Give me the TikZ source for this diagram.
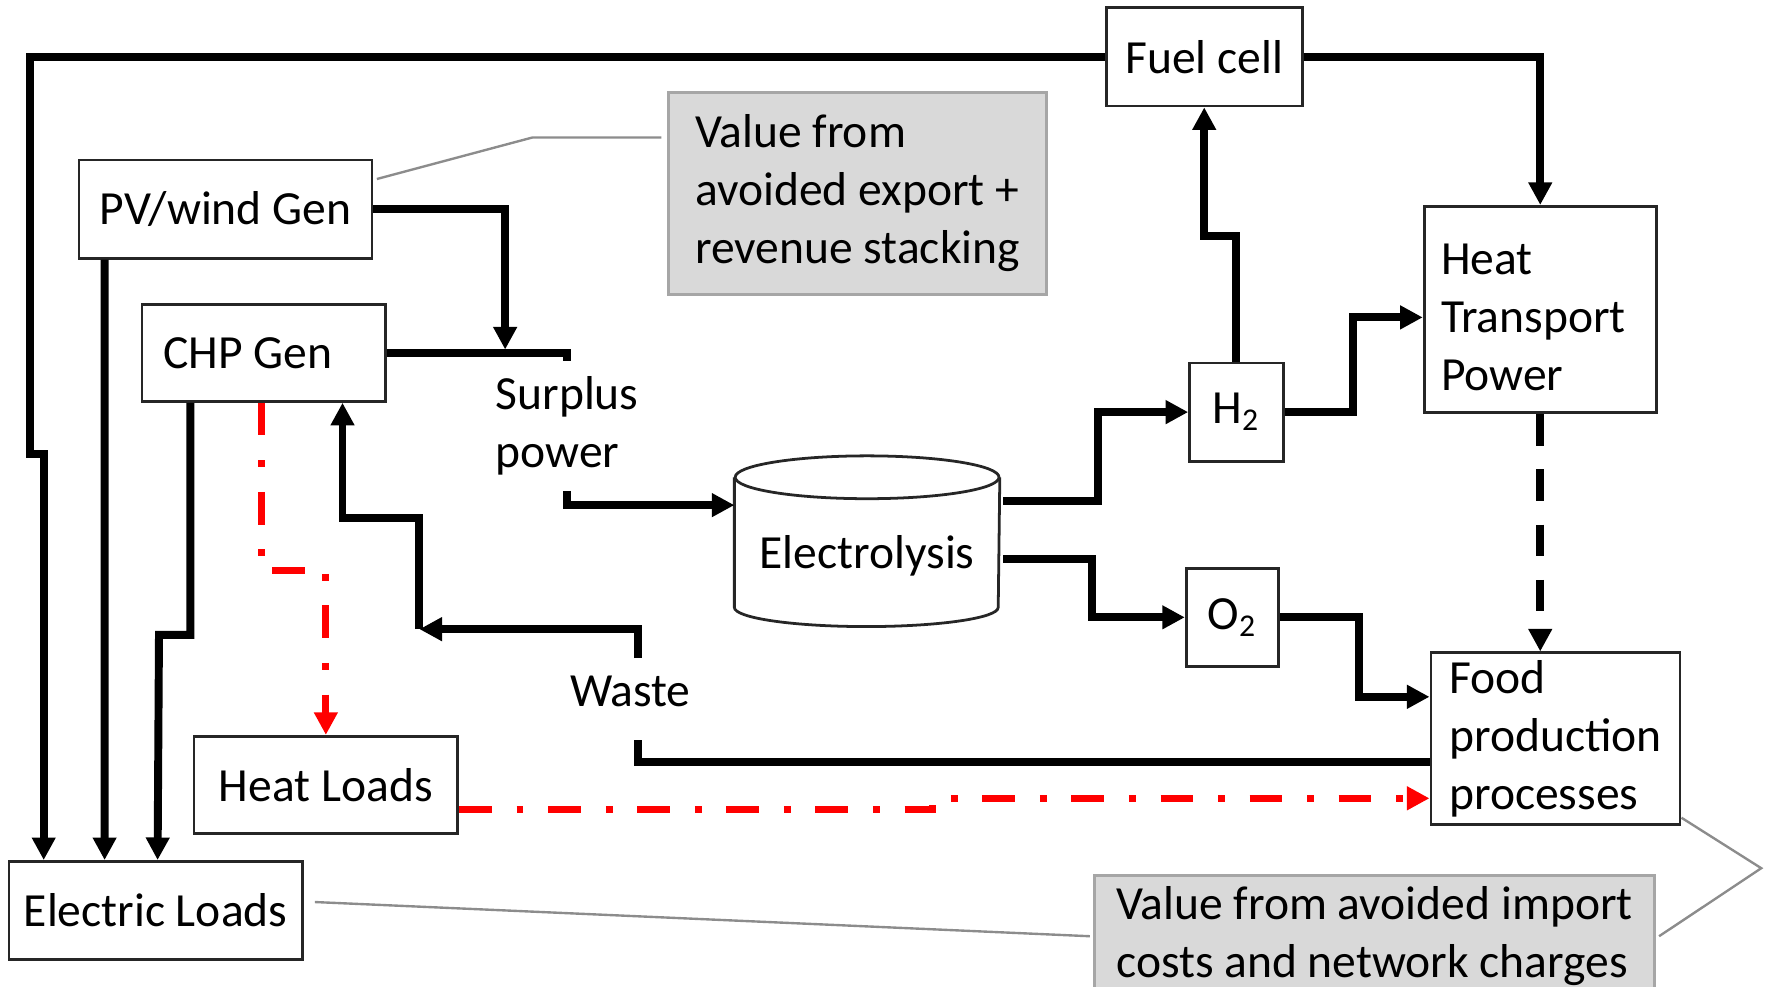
\documentclass[tikz,border=0pt]{standalone}
\usepackage{fontspec}
\setmainfont{Carlito}
\usetikzlibrary{arrows.meta}
\definecolor{notefill}{HTML}{D9D9D9}
\definecolor{noteline}{HTML}{A6A6A6}
\definecolor{leadgray}{HTML}{8C8C8C}
\definecolor{heatred}{HTML}{FF0000}

\begin{document}
\begin{tikzpicture}[font=\fontsize{12}{14.6}\selectfont,
  unit/.style={draw=black!85,line width=0.7pt,fill=white,inner sep=0pt},
  note/.style={draw=noteline,line width=0.8pt,fill=notefill,align=left,inner sep=0pt},
  pipe/.style={line width=2pt},
  flow/.style={line width=2pt,-{Triangle[length=2mm,width=2mm]}},
  heatflow/.style={heatred,line width=1.8pt,dash pattern=on 2.9mm off 2.2mm on 0.6mm off 2.2mm,-{Triangle[length=2mm,width=2mm]}},
  leader/.style={leadgray,line width=0.6pt}]
\useasboundingbox (0,0) rectangle (15.68,8.75);
% boxes
\node[unit,minimum width=1.74cm,minimum height=0.87cm] (fuel) at (10.68,8.245) {Fuel cell};
\node[note,minimum width=3.35cm,minimum height=1.79cm] (valexp) at (7.605,7.035) {Value from\\avoided export +\\revenue stacking};
\node[unit,minimum width=2.60cm,minimum height=0.87cm] (pv) at (2.00,6.895) {PV/wind Gen};
\node[unit,minimum width=2.16cm,minimum height=0.86cm] (chp) at (2.34,5.62) {CHP Gen\hspace*{2.8mm}};
\node[unit,minimum width=2.06cm,minimum height=1.83cm,inner xsep=1.5mm,text width=1.76cm,align=left] (htp) at (13.66,6.005) {\rule{0pt}{4.1mm}Heat\\Transport\\Power};
\node[unit,minimum width=0.83cm,minimum height=0.87cm] (h2) at (10.965,5.095) {H\textsubscript{2}};
\node[minimum width=2.34cm,minimum height=1.50cm,inner sep=0pt] (elec) at (7.69,3.95) {};
\node[unit,minimum width=0.82cm,minimum height=0.87cm] (o2) at (10.93,3.275) {O\textsubscript{2}};
\node[unit,minimum width=2.21cm,minimum height=1.52cm,align=left] (food) at (13.795,2.20) {Food\\production\\processes};
\node[unit,minimum width=2.34cm,minimum height=0.86cm] (heat) at (2.89,1.79) {Heat Loads};
\node[unit,minimum width=2.60cm,minimum height=0.87cm] (eload) at (1.38,0.675) {Electric Loads};
\node[note,minimum width=4.96cm,inner ysep=1mm,anchor=north] (valimp) at (12.19,1.00) {Value from avoided import\\costs and network charges};
% cylinder
\draw[draw=black!85,line width=0.7pt,fill=white] ([yshift=-1.9mm]elec.north west) -- ([yshift=1.7mm]elec.south west) arc[start angle=180,end angle=360,x radius=1.17cm,y radius=0.17cm] -- ([yshift=-1.9mm]elec.north east);
\draw[draw=black!85,line width=0.7pt,fill=white] ([yshift=-1.9mm]elec.north) ellipse[x radius=1.17cm,y radius=0.19cm];
\node (elecname) at ([yshift=-1.3mm]elec.center) {Electrolysis};
% labels
\node[align=left,inner xsep=0pt,inner ysep=1.3mm] (surplus) at (5.03,4.97) {Surplus\\power};
\node[inner ysep=1.5mm] (waste) at (5.59,2.62) {Waste};
\coordinate (bus) at (4.48,5.65);
\coordinate (back) at (3.72,3.17);
% electricity
\draw[flow] (fuel.west) -| (0.27,4.72) -| ([xshift=3.2mm]eload.north west);
\draw[flow] (fuel.east) -| (htp.north);
\draw[flow] (pv.east) -| (bus);
\draw[pipe] (chp.east) -| (surplus.north);
\draw[flow] (surplus.south) |- ([yshift=3.2mm]elec.west);
\draw[flow] ([xshift=2.4mm]pv.south west) -- ([xshift=8.6mm]eload.north west);
\draw[flow] ([xshift=4.4mm]chp.south west) |- (1.41,3.12) -- ([xshift=13.3mm]eload.north west);
\draw[heatflow] ([xshift=10.7mm]chp.south west) |- ([yshift=14.6mm]heat.north) -- (heat.north);
% waste return
\draw[pipe] ([yshift=-2.1mm]food.west) -| ([xshift=0.7mm,yshift=-1.4mm]waste.south);
\draw[flow] ([xshift=0.7mm]waste.north) |- (back);
\draw[flow] (back) |- ([xshift=17.9mm,yshift=-10.2mm]chp.south west) -- ([xshift=17.9mm]chp.south west);
% gases
\draw[flow] ([xshift=0.3mm,yshift=3.6mm]elec.east) -- ++(0.84,0) |- (h2.west);
\draw[flow] ([xshift=0.3mm,yshift=-1.6mm]elec.east) -- ++(0.79,0) |- (o2.west);
\draw[flow] (h2.north) |- ([yshift=-11.4mm]fuel.south) -- (fuel.south);
\draw[flow] (h2.east) -- ++(0.61,0) |- ([yshift=-0.7mm]htp.west);
\draw[flow] (o2.east) -- ++(0.70,0) |- ([yshift=3.7mm]food.west);
\draw[flow,dash pattern=on 2.8mm off 2.1mm] (htp.south) -- (htp.south |- food.north);
\draw[heatflow] ([yshift=-2.2mm]heat.east) -- ++(4.20,0) |- ([yshift=-5.3mm]food.west);
% callouts
\draw[leader] ([xshift=0.3mm,yshift=-1.8mm]pv.north east) -- (4.72,7.53) -- ([xshift=-0.5mm,yshift=4.95mm]valexp.west);
\draw[leader] ([xshift=1mm,yshift=0.75mm]eload.east) -- ([xshift=-0.3mm]valimp.west);
\draw[leader] ([yshift=0.7mm]food.south east) -- (15.62,1.05) -- ([xshift=0.3mm]valimp.east);
\end{tikzpicture}
\end{document}
